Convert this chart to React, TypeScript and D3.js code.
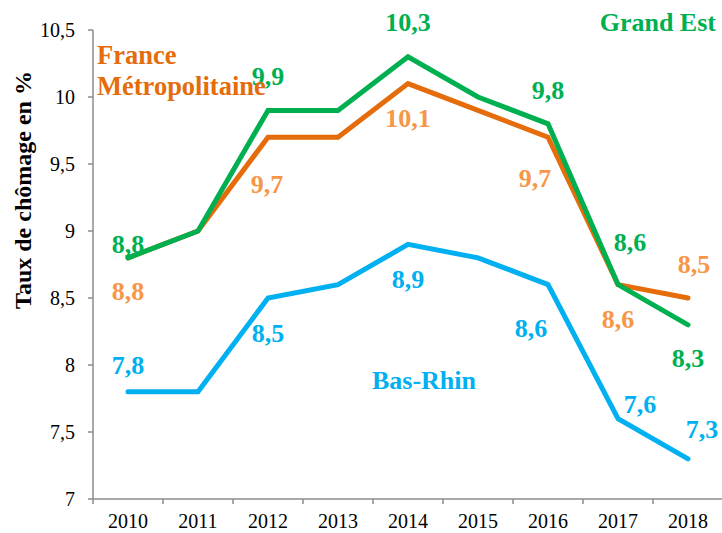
import React from "react";
import * as d3 from "d3";

const years = ["2010", "2011", "2012", "2013", "2014", "2015", "2016", "2017", "2018"];
const franceValues = [8.8, 9.0, 9.7, 9.7, 10.1, 9.9, 9.7, 8.6, 8.5];
const grandEstValues = [8.8, 9.0, 9.9, 9.9, 10.3, 10.0, 9.8, 8.6, 8.3];
const basRhinValues = [7.8, 7.8, 8.5, 8.6, 8.9, 8.8, 8.6, 7.6, 7.3];
const yTicks = [7, 7.5, 8, 8.5, 9, 9.5, 10, 10.5];

// indices of labelled points per series
const franceLabelIdx = [0, 2, 4, 6, 7, 8];
const grandEstLabelIdx = [0, 2, 4, 6, 7, 8];
const basRhinLabelIdx = [0, 2, 4, 6, 7, 8];

// label offsets (layout) relative to the point
const franceOffsets = [[0, 42], [-1, 56], [0, 43], [-13, 50], [0, 43], [6, -25]];
const grandEstOffsets = [[0, -5], [0, -25], [0, -26], [0, -25], [12, -34], [0, 42]];
const basRhinOffsets = [[0, -18], [0, 44], [0, 44], [-17, 52], [22, -6], [14, -21]];

const W = 722;
const H = 533;
const fmt = (v: number) => v.toFixed(1).replace(".", ",");

export default function App() {
  const x = d3.scaleBand<string>().domain(years).range([93, 723]).padding(0);
  const y = d3.scaleLinear().domain([7, 10.5]).range([499, 30]);
  const cx = (yr: string) => (x(yr) as number) + x.bandwidth() / 2;
  const line = d3
    .line<number>()
    .x((_, i) => cx(years[i]))
    .y((d) => y(d));

  const serif = '"Liberation Serif", Tinos, "Times New Roman", "DejaVu Serif", serif';
  const axisColor = "#8c8c8c";

  const series = [
    { vals: franceValues, line: "#E46C0A", label: "#F79646", idx: franceLabelIdx, off: franceOffsets },
    { vals: grandEstValues, line: "#00B050", label: "#00B050", idx: grandEstLabelIdx, off: grandEstOffsets },
    { vals: basRhinValues, line: "#00B0F0", label: "#00B0F0", idx: basRhinLabelIdx, off: basRhinOffsets },
  ];

  const boundaries = years.map((yr) => x(yr) as number).concat([723]);
  const ts = { fontFamily: serif } as React.CSSProperties;

  return (
    <svg
      width={W}
      height={H}
      style={{ position: "absolute", left: 0, top: 0, background: "#fff", fontFamily: serif }}
    >
      {/* axes */}
      <line x1={93} x2={93} y1={30} y2={499} stroke={axisColor} strokeWidth={1.5} />
      <line x1={93} x2={723} y1={499} y2={499} stroke={axisColor} strokeWidth={1.5} />
      {yTicks.map((t) => (
        <g key={t}>
          <line x1={88} x2={93} y1={y(t)} y2={y(t)} stroke={axisColor} strokeWidth={1.5} />
          <text x={75} y={y(t) + 7} textAnchor="end" fontSize={20} fill="#000" style={ts}>
            {String(t).replace(".", ",")}
          </text>
        </g>
      ))}
      {boundaries.map((b, i) => (
        <line key={i} x1={b} x2={b} y1={499} y2={504} stroke={axisColor} strokeWidth={1.5} />
      ))}
      {years.map((yr) => (
        <text key={yr} x={cx(yr)} y={528} textAnchor="middle" fontSize={20} fill="#000" style={ts}>
          {yr}
        </text>
      ))}
      <text
        transform="translate(31,190) rotate(-90)"
        textAnchor="middle"
        fontSize={24}
        fontWeight="bold"
        fill="#000"
        style={ts}
      >
        Taux de chômage en %
      </text>

      {/* lines */}
      {series.map((s, k) => (
        <path
          key={k}
          d={line(s.vals) || ""}
          fill="none"
          stroke={s.line}
          strokeWidth={5}
          strokeLinecap="round"
          strokeLinejoin="miter"
        />
      ))}

      {/* data labels */}
      {series.map((s, k) =>
        s.idx.map((i, j) => (
          <text
            key={`${k}-${i}`}
            x={cx(years[i]) + s.off[j][0]}
            y={y(s.vals[i]) + s.off[j][1]}
            textAnchor="middle"
            fontSize={26}
            fontWeight="bold"
            fill={s.label}
            style={ts}
          >
            {fmt(s.vals[i])}
          </text>
        ))
      )}

      {/* series names */}
      <text x={97} y={64} fontSize={26.5} fontWeight="bold" fill="#E46C0A" style={ts}>
        France
      </text>
      <text x={97} y={95} fontSize={26.5} fontWeight="bold" fill="#E46C0A" style={ts}>
        Métropolitaine
      </text>
      <text x={716} y={31} textAnchor="end" fontSize={26} fontWeight="bold" fill="#00B050" style={ts}>
        Grand Est
      </text>
      <text x={476} y={389} textAnchor="end" fontSize={26} fontWeight="bold" fill="#00B0F0" style={ts}>
        Bas-Rhin
      </text>
    </svg>
  );
}
